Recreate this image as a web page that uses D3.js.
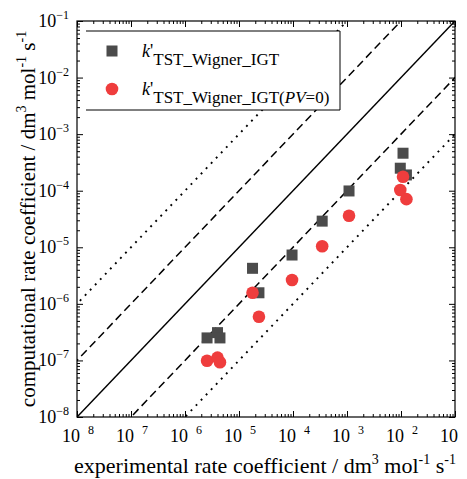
<!DOCTYPE html>
<html>
<head>
<meta charset="utf-8">
<script src="https://cdn.jsdelivr.net/npm/d3@7"></script>
<style>
  body { margin: 0; background: #fff; }
  svg { display: block; font-family: "Liberation Serif", "Times New Roman", serif; }
</style>
</head>
<body>
<svg id="chart" width="467" height="479"></svg>
<script>
// experimental rate coefficients (same experiments for both series)
const expRate = [2.56e-6, 4.0e-6, 4.44e-6, 1.78e-5, 2.34e-5, 9.6e-5, 3.47e-4, 1.09e-3, 9.7e-3, 1.09e-2, 1.26e-2];
// k'TST_Wigner_IGT
const kIGT = [2.5e-7, 3.1e-7, 2.5e-7, 4.25e-6, 1.57e-6, 7.3e-6, 2.9e-5, 9.9e-5, 2.5e-4, 4.6e-4, 1.9e-4];
// k'TST_Wigner_IGT(PV=0)
const kPV0 = [9.9e-8, 1.12e-7, 9.3e-8, 1.57e-6, 5.9e-7, 2.64e-6, 1.04e-5, 3.6e-5, 1.03e-4, 1.77e-4, 7.1e-5];

const decades = [-8, -7, -6, -5, -4, -3, -2, -1];
// x tick exponents as printed (the original lost its minus signs, last one cut off)
const xTickSup = ['8', '7', '6', '5', '4', '3', '2', ''];
// guide lines: y = factor * x
const guideFactors = [100, 10, 1, 0.1, 0.01];
const guideStyles = ['dot', 'dash', 'solid', 'dash', 'dot'];

const svg = d3.select('#chart');
const M = { left: 77, right: 455, top: 21, bottom: 417 };

const x = d3.scaleLog().domain([1e-8, 1e-1]).range([M.left, M.right]);
const y = d3.scaleLog().domain([1e-8, 1e-1]).range([M.bottom, M.top]);

const majors = decades.map(d => Math.pow(10, d));
const minors = [];
decades.slice(0, -1).forEach(d => {
  for (let m = 2; m < 10; m++) minors.push(m * Math.pow(10, d));
});

svg.append('clipPath').attr('id', 'plot')
  .append('rect')
  .attr('x', M.left).attr('y', M.top)
  .attr('width', M.right - M.left).attr('height', M.bottom - M.top);

// guide lines
const line = d3.line().x(d => x(d[0])).y(d => y(d[1]));
const guides = svg.append('g').attr('clip-path', 'url(#plot)');
guideFactors.forEach((f, i) => {
  const s = guideStyles[i];
  guides.append('path')
    .datum([[1e-10, 1e-10 * f], [1, f]])
    .attr('d', line)
    .attr('fill', 'none')
    .attr('stroke', '#000')
    .attr('stroke-width', s === 'dot' ? 1.9 : 1.5)
    .attr('stroke-dasharray', s === 'dot' ? '1.9,5.4' : s === 'dash' ? '8,4.5' : null);
});

// axes, ticks inward on all four sides
function ticks(axis, vals, size, tr) {
  const g = svg.append('g')
    .attr('transform', tr)
    .call(axis.tickValues(vals).tickSize(size).tickFormat(''));
  g.select('.domain').remove();
  g.selectAll('line').attr('stroke', '#000').attr('stroke-width', 1);
}
ticks(d3.axisBottom(x), majors, -6, `translate(0,${M.bottom})`);
ticks(d3.axisBottom(x), minors, -3, `translate(0,${M.bottom})`);
ticks(d3.axisTop(x), majors, -6, `translate(0,${M.top})`);
ticks(d3.axisTop(x), minors, -3, `translate(0,${M.top})`);
ticks(d3.axisLeft(y), majors, -6, `translate(${M.left},0)`);
ticks(d3.axisLeft(y), minors, -3, `translate(${M.left},0)`);
ticks(d3.axisRight(y), majors, -6, `translate(${M.right},0)`);
ticks(d3.axisRight(y), minors, -3, `translate(${M.right},0)`);

svg.append('rect')
  .attr('x', M.left).attr('y', M.top)
  .attr('width', M.right - M.left).attr('height', M.bottom - M.top)
  .attr('fill', 'none').attr('stroke', '#000').attr('stroke-width', 1.2);

// y tick labels
const yLab = svg.append('g').selectAll('text')
  .data(decades).enter().append('text')
  .attr('x', M.left - 8)
  .attr('y', d => y(Math.pow(10, d)) + 6)
  .attr('text-anchor', 'end')
  .attr('font-size', 18);
yLab.append('tspan').text('10');
yLab.append('tspan').attr('dy', -8).attr('font-size', 12).text(d => '\u2212' + (-d));

// x tick labels
const xLab = svg.append('g').selectAll('text')
  .data(decades).enter().append('text')
  .attr('x', d => x(Math.pow(10, d)) - 15)
  .attr('y', 442)
  .attr('font-size', 18);
xLab.append('tspan').text('10');
xLab.append('tspan').attr('dx', 8).attr('dy', -8).attr('font-size', 12).text((d, i) => xTickSup[i]);

// axis titles
const xt = svg.append('text')
  .attr('x', 265).attr('y', 473)
  .attr('text-anchor', 'middle').attr('font-size', 22);
xt.append('tspan').text('experimental rate coefficient / dm');
xt.append('tspan').attr('dy', -9).attr('font-size', 14).text('3');
xt.append('tspan').attr('dy', 9).text(' mol');
xt.append('tspan').attr('dy', -9).attr('font-size', 14).text('-1');
xt.append('tspan').attr('dy', 9).text(' s');
xt.append('tspan').attr('dy', -9).attr('font-size', 14).text('-1');

const yt = svg.append('text')
  .attr('transform', `translate(35,219) rotate(-90)`)
  .attr('text-anchor', 'middle').attr('font-size', 21);
yt.append('tspan').text('computational rate coefficient / dm');
yt.append('tspan').attr('dy', -9).attr('font-size', 14).text('3');
yt.append('tspan').attr('dy', 9).text(' mol');
yt.append('tspan').attr('dy', -9).attr('font-size', 14).text('-1');
yt.append('tspan').attr('dy', 9).text(' s');
yt.append('tspan').attr('dy', -9).attr('font-size', 14).text('-1');

// markers
const squareColor = '#4b4b4b', circleColor = '#ef3d3d';
const sq = 11;
svg.append('g').selectAll('rect')
  .data(expRate).enter().append('rect')
  .attr('x', (d, i) => x(d) - sq / 2)
  .attr('y', (d, i) => y(kIGT[i]) - sq / 2)
  .attr('width', sq).attr('height', sq)
  .attr('fill', squareColor);

svg.append('g').selectAll('circle')
  .data(expRate).enter().append('circle')
  .attr('cx', d => x(d))
  .attr('cy', (d, i) => y(kPV0[i]))
  .attr('r', 6.3)
  .attr('fill', circleColor);

// legend
const lg = svg.append('g');
lg.append('rect')
  .attr('x', 86).attr('y', 31).attr('width', 254).attr('height', 79)
  .attr('fill', '#fff');
lg.append('path')
  .attr('d', 'M86,31H340V110H86')
  .attr('fill', 'none').attr('stroke', '#000').attr('stroke-width', 1);
lg.append('rect')
  .attr('x', 112 - sq / 2).attr('y', 51 - sq / 2)
  .attr('width', sq).attr('height', sq).attr('fill', squareColor);
lg.append('circle')
  .attr('cx', 112).attr('cy', 89).attr('r', 6.3).attr('fill', circleColor);

const l1 = lg.append('text').attr('x', 142).attr('y', 57).attr('font-size', 18);
l1.append('tspan').attr('font-style', 'italic').text('k');
l1.append('tspan').text('\'');
l1.append('tspan').attr('dy', 8).attr('font-size', 17).text('TST_Wigner_IGT');

const l2 = lg.append('text').attr('x', 142).attr('y', 95).attr('font-size', 18);
l2.append('tspan').attr('font-style', 'italic').text('k');
l2.append('tspan').text('\'');
l2.append('tspan').attr('dy', 8).attr('font-size', 17).text('TST_Wigner_IGT(');
l2.append('tspan').attr('font-size', 17).attr('font-style', 'italic').text('PV');
l2.append('tspan').attr('font-size', 17).text('=0)');
</script>
</body>
</html>
